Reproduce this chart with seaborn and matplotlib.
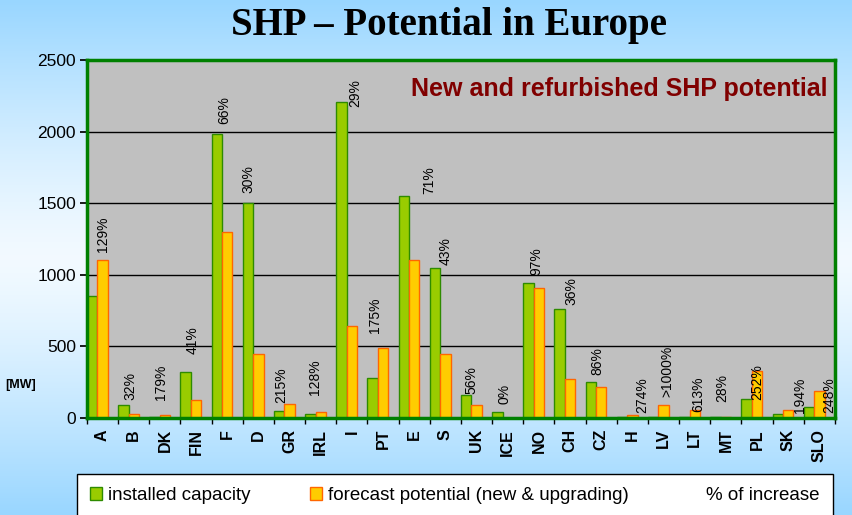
import matplotlib
matplotlib.use("Agg")
import matplotlib.pyplot as plt
import numpy as np
import pandas as pd
import seaborn as sns
from matplotlib.patches import Patch

# data (MW)
countries = ["A", "B", "DK", "FIN", "F", "D", "GR", "IRL", "I", "PT", "E", "S",
             "UK", "ICE", "NO", "CH", "CZ", "H", "LV", "LT", "MT", "PL", "SK", "SLO"]
installed = [850, 90, 10, 320, 1980, 1500, 50, 30, 2210, 280, 1550, 1050,
             160, 40, 945, 760, 250, 8, 5, 8, 5, 130, 30, 75]
forecast = [1100, 30, 20, 125, 1300, 450, 100, 40, 640, 490, 1100, 450,
            90, 0, 910, 270, 215, 20, 90, 55, 5, 325, 55, 190]
increase = ["129%", "32%", "179%", "41%", "66%", "30%", "215%", "128%", "29%", "175%", "71%", "43%",
            "56%", "0%", "97%", "36%", "86%", "274%", ">1000%", "613%", "28%", "252%", "194%", "248%"]
# where the % labels sit (MW) and their sideways shift (in category widths)
label_height = [1160, 125, 125, 445, 2050, 1570, 105, 160, 2175, 595, 1565, 1070,
                170, 95, 1000, 790, 300, 35, 150, 45, 115, 125, 35, 35]
label_shift = [0, -0.12, -0.14, -0.1, -0.1, -0.31, -0.27, -0.2, 0.12, -0.27, 0.48, 0,
               -0.18, -0.11, -0.07, 0.03, -0.14, 0.3, 0.12, 0.1, -0.12, 0, 0.37, 0.3]

series = ["installed capacity", "forecast potential (new & upgrading)", "% of increase"]

green, green_edge = "#99CC00", "#2E8B00"
orange, orange_edge = "#FFCC00", "#FF6600"

sns.set_theme(style="white")
plt.rcParams["font.family"] = ["Liberation Sans", "DejaVu Sans"]
plt.rcParams["text.color"] = "black"
plt.rcParams["xtick.color"] = "black"
plt.rcParams["ytick.color"] = "black"

df = pd.DataFrame({
    "country": countries * 3,
    "series": [series[0]] * 24 + [series[1]] * 24 + [series[2]] * 24,
    "MW": installed + forecast + [0] * 24,
})

fig = plt.figure(figsize=(8.53, 5.15), dpi=100)

# light blue background gradient
bg = fig.add_axes([0, 0, 1, 1], zorder=-10)
v = np.linspace(0, 1, 300)
t = np.clip(np.abs(v - 0.5) / 0.5, 0, 1) ** 1.3
blue = np.array([0.60, 0.84, 1.0])
white = np.array([0.95, 0.98, 1.0])
grad = white[None, :] * (1 - t[:, None]) + blue[None, :] * t[:, None]
bg.imshow(grad[:, None, :], aspect="auto", extent=[0, 1, 0, 1])
bg.axis("off")

ax = fig.add_axes([87 / 853, 1 - 418 / 515, (835 - 87) / 853, (418 - 60) / 515])
sns.barplot(data=df, x="country", y="MW", hue="series", hue_order=series,
            palette=[green, orange, "white"], width=1, gap=0, saturation=1,
            errorbar=None, legend=False, ax=ax)

edges = [green_edge, orange_edge, "none"]
for cont, ec in zip(ax.containers, edges):
    for bar in cont:
        bar.set_edgecolor(ec)
        bar.set_linewidth(1)
        if ec == "none":
            bar.set_alpha(0)

ax.set_facecolor("#C0C0C0")
ax.set_xlim(-0.5, 23.5)
ax.set_ylim(0, 2500)
ax.set_yticks(range(0, 2501, 500))
ax.yaxis.grid(True, color="black", lw=1)
ax.set_axisbelow(True)
for s in ax.spines.values():
    s.set_color("#008000")
    s.set_linewidth(2.5)
ax.set_xlabel("")
ax.set_ylabel("")
ax.set_xticks(range(24))
ax.set_xticklabels(countries, rotation=90, fontweight="bold", fontsize=11.5)
ax.set_xticks(np.arange(-0.5, 24, 1), minor=True)
ax.tick_params(axis="x", which="major", length=0, pad=8)
ax.tick_params(axis="x", which="minor", length=4, color="black", bottom=True)
ax.tick_params(axis="y", length=5, color="black", left=True, labelsize=12.5, pad=3)

for i, txt in enumerate(increase):
    ax.text(i + label_shift[i], label_height[i], txt, rotation=90,
            ha="center", va="bottom", fontsize=10, color="black")

fig.text(828 / 853, 1 - 89 / 515, "New and refurbished SHP potential", ha="right", va="center",
         color="#800000", fontweight="bold", fontsize=18)
fig.text(449 / 853, 1 - 25 / 515, "SHP – Potential in Europe", ha="center", va="center",
         family="Liberation Serif", fontweight="bold", fontsize=28, color="black")
fig.text(5 / 853, 1 - 385 / 515, "[MW]", fontweight="bold", fontsize=9, va="center")

handles = [Patch(facecolor=green, edgecolor=green_edge),
           Patch(facecolor=orange, edgecolor=orange_edge),
           Patch(facecolor="none", edgecolor="none")]
fig.legend(handles, series, loc="upper left", ncol=3, mode="expand",
           bbox_to_anchor=(77 / 853, -0.3, 756 / 853, 1 - 474 / 515 + 0.3),
           frameon=True, fancybox=False, edgecolor="black", facecolor="white", framealpha=1,
           fontsize=13.5, handlelength=0.65, handleheight=0.65, handletextpad=0.3,
           borderpad=0.7, borderaxespad=0)

fig.savefig("out.png", dpi=100)
